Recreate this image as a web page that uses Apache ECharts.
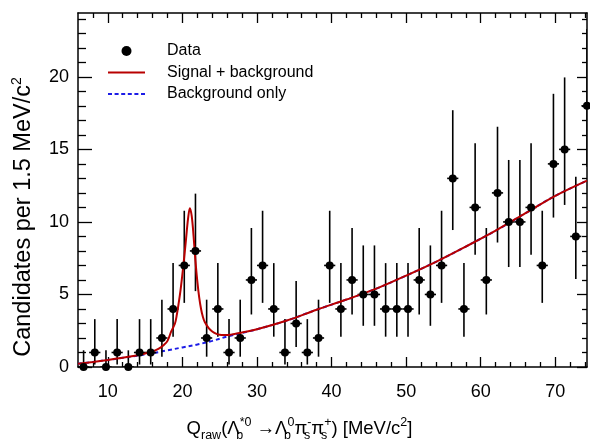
<!DOCTYPE html>
<html>
<head>
<meta charset="utf-8">
<script src="https://cdn.jsdelivr.net/npm/echarts@6/dist/echarts.min.js"></script>
<style>html,body{margin:0;padding:0;background:#fff}#c{width:590px;height:447px}</style>
</head>
<body>
<div id="c"></div>
<script>
// ---- data ----
const binCenters = [6.75,8.25,9.75,11.25,12.75,14.25,15.75,17.25,18.75,20.25,21.75,23.25,24.75,26.25,27.75,29.25,30.75,32.25,33.75,35.25,36.75,38.25,39.75,41.25,42.75,44.25,45.75,47.25,48.75,50.25,51.75,53.25,54.75,56.25,57.75,59.25,60.75,62.25,63.75,65.25,66.75,68.25,69.75,71.25,72.75,74.25];
const counts = [0,1,0,1,0,1,1,2,4,7,8,2,4,1,2,6,7,4,1,3,1,2,7,4,6,5,5,4,4,4,6,5,7,13,4,11,6,12,10,10,11,7,14,15,9,18];
// error-bar extents per count
const errLowByCount  = {0:0,1:0.17,2:0.71,3:1.37,4:2.09,5:2.84,6:3.62,7:4.42,8:5.23,9:6.06,10:6.89,11:7.73,12:8.58,13:9.44,14:10.30,15:11.17,18:13.8};
const errHighByCount = {0:1.15,1:3.30,2:4.64,3:5.92,4:7.16,5:8.38,6:9.58,7:10.77,8:11.95,9:13.11,10:14.27,11:15.42,12:16.56,13:17.70,14:18.83,15:19.96,18:23.3};
const binHalfWidth = 0.75;

const bgX = [6,8,10,12,14,16,18,20,22,24,26,28,30,34,38,42,46,50,54,58,62,66,70,74.25];
const bgY = [0.22,0.35,0.49,0.63,0.78,0.95,1.15,1.35,1.55,1.8,2.1,2.35,2.6,3.2,3.95,4.65,5.4,6.3,7.25,8.3,9.4,10.6,11.8,12.85];

const fitX = [6,8,10,12,13,14,15,16,16.5,17,17.5,18,18.5,19,19.25,19.5,19.75,20,20.25,20.5,20.75,21,21.25,21.5,21.75,22,22.25,22.5,22.75,23,23.5,24,24.5,25,25.5,26,26.5,27,28,30,34,38,42,46,50,54,58,62,66,70,74.25];
const fitY = [0.22,0.35,0.49,0.64,0.72,0.81,0.93,1.08,1.18,1.32,1.52,1.8,2.45,3.0,3.6,4.4,5.3,6.4,7.6,8.9,10.2,10.95,10.4,9.0,7.3,5.9,4.8,4.0,3.45,3.1,2.7,2.45,2.3,2.22,2.2,2.2,2.23,2.27,2.38,2.6,3.2,3.95,4.65,5.4,6.3,7.25,8.3,9.4,10.6,11.8,12.85];

const xMajor = [10,20,30,40,50,60,70];
const xMinor = [8,12,14,16,18,22,24,26,28,32,34,36,38,42,44,46,48,52,54,56,58,62,64,66,68,72,74];
const yMajor = [0,5,10,15,20];
const yMinor = [1,2,3,4,6,7,8,9,11,12,13,14,16,17,18,19,21,22,23,24];

// ---- build ----
const FONT = '"Liberation Sans", Arial, Helvetica, sans-serif';
const RED = '#b80000', BLUE = '#1c1ce6';
const pts = binCenters.map((x,i)=>[x,counts[i]]);
const bars = binCenters.map((x,i)=>[x,counts[i],errLowByCount[counts[i]],errHighByCount[counts[i]]]);
const bg = bgX.map((x,i)=>[x,bgY[i]]);
const fit = fitX.map((x,i)=>[x,fitY[i]]);

const XMIN=6, XMAX=74.25, YMIN=0, YMAX=24.4;
function xAx(pos, vals, len, main){
  return {type:'value', position:pos, min:XMIN, max:XMAX, gridIndex:0,
    axisLine:{show:main, onZero:false, lineStyle:{color:'#000', width:1.5}},
    axisTick:{show:true, inside:true, length:len, customValues:vals, lineStyle:{color:'#000', width:1.3}},
    axisLabel:{show:(pos==='bottom'&&main), customValues:vals, fontFamily:FONT, fontSize:18, color:'#000', margin:16},
    splitLine:{show:false}};
}
function yAx(pos, vals, len, main){
  return {type:'value', position:pos, min:YMIN, max:YMAX, gridIndex:0,
    axisLine:{show:main, onZero:false, lineStyle:{color:'#000', width:1.5}},
    axisTick:{show:true, inside:true, length:len, customValues:vals, lineStyle:{color:'#000', width:1.3}},
    axisLabel:{show:(pos==='left'&&main), customValues:vals, fontFamily:FONT, fontSize:18, color:'#000', margin:9},
    splitLine:{show:false}};
}
const xAxes = [xAx('bottom',xMajor,10,true), xAx('bottom',xMinor,5,false), xAx('top',xMajor,10,true), xAx('top',xMinor,5,false)];
const yAxes = [yAx('left',yMajor,14,true), yAx('left',yMinor,8,false), yAx('right',yMajor,10,true), yAx('right',yMinor,5,false)];

xAxes[0].name = '{m|Q}{sub|raw}{m|(Λ}{subz|b}{sup|*0}{m| →Λ}{subz|b}{sup|0}{m|π}{subz|s}{sup|-}{m|π}{subz|s}{sup|+}{m|) [MeV/c}{sup|2}{m|]}';
xAxes[0].nameLocation = 'middle';
xAxes[0].nameGap = 49;
xAxes[0].nameTextStyle = {fontFamily:FONT, color:'#000', padding:[0,66,0,0], rich:{
  m:{fontSize:18.5, fontFamily:FONT, color:'#000', lineHeight:26},
  sub:{fontSize:12.5, fontFamily:FONT, color:'#000', lineHeight:12, verticalAlign:'bottom'},
  subz:{fontSize:12.5, fontFamily:FONT, color:'#000', lineHeight:12, verticalAlign:'bottom', width:0.01},
  sup:{fontSize:12.5, fontFamily:FONT, color:'#000', lineHeight:12, verticalAlign:'top'}
}};
yAxes[0].name = '{m|Candidates per 1.5 MeV/c}{sup|2}';
yAxes[0].nameLocation = 'middle';
yAxes[0].nameRotate = 90;
yAxes[0].nameGap = 40;
yAxes[0].nameTextStyle = {fontFamily:FONT, color:'#000', padding:[0,54,0,0], rich:{
  m:{fontSize:23.5, fontFamily:FONT, color:'#000', lineHeight:28},
  sup:{fontSize:14, fontFamily:FONT, color:'#000', lineHeight:14, verticalAlign:'top'}
}};

const option = {
  animation:false,
  backgroundColor:'#fff',
  grid:{left:78, right:3, top:13, bottom:72, containLabel:false},
  legend:{orient:'vertical', left:108, top:43, padding:0, itemWidth:37, itemHeight:10, itemGap:5.5,
    symbolKeepAspect:true,
    textStyle:{fontFamily:FONT, fontSize:16, color:'#000', padding:[0,0,0,17]},
    data:[
      {name:'Data', icon:'circle', itemStyle:{color:'#000', opacity:1}},
      {name:'Signal + background', icon:'path://M0,0H37V2H0Z', itemStyle:{color:RED}},
      {name:'Background only', icon:'path://M0,0h4v2h-4z M6.6,0h4v2h-4z M13.2,0h4v2h-4z M19.8,0h4v2h-4z M26.4,0h4v2h-4z M33,0h4v2h-4z', itemStyle:{color:BLUE}}
    ]},
  xAxis:xAxes,
  yAxis:yAxes,
  series:[
    {type:'custom', name:'errors', xAxisIndex:0, yAxisIndex:0, clip:true, z:3,
     data:bars, encode:{x:0,y:1},
     renderItem:function(params, api){
       const x=api.value(0), y=api.value(1), lo=api.value(2), hi=api.value(3);
       const pLo=api.coord([x,lo]), pHi=api.coord([x,hi]);
       const pL=api.coord([x-binHalfWidth,y]), pR=api.coord([x+binHalfWidth,y]);
       const st={stroke:'#000', lineWidth:1.6};
       return {type:'group', children:[
         {type:'line', shape:{x1:pLo[0],y1:pLo[1],x2:pHi[0],y2:pHi[1]}, style:st},
         {type:'line', shape:{x1:pL[0],y1:pL[1],x2:pR[0],y2:pR[1]}, style:st}
       ]};
     }},
    {type:'line', name:'Background only', data:bg, xAxisIndex:0, yAxisIndex:0, symbol:'none', showSymbol:false, smooth:0.35, z:2,
     color:BLUE, lineStyle:{color:BLUE, width:2, type:[4,3]}},
    {type:'line', name:'Signal + background', data:fit, xAxisIndex:0, yAxisIndex:0, symbol:'none', showSymbol:false, smooth:0.35, z:4,
     color:RED, lineStyle:{color:RED, width:2}},
    {type:'scatter', name:'Data', data:pts, xAxisIndex:0, yAxisIndex:0, symbol:'circle', symbolSize:8, z:5,
     itemStyle:{color:'#000', opacity:1}}
  ]
};
const chart = echarts.init(document.getElementById('c'), null, {renderer:'canvas'});
chart.setOption(option);
</script>
</body>
</html>
